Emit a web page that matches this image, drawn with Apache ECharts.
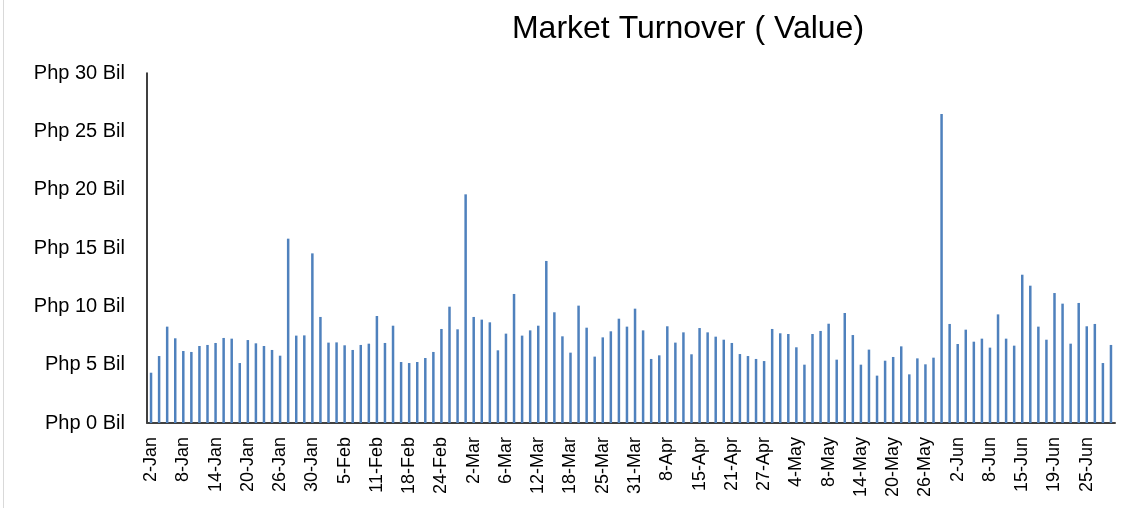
<!DOCTYPE html>
<html>
<head>
<meta charset="utf-8">
<title>Market Turnover</title>
<script src="https://cdn.jsdelivr.net/npm/echarts@6/dist/echarts.min.js"></script>
<style>
  html, body { margin: 0; padding: 0; background: #fff; }
  #chart { width: 1123px; height: 508px; }
</style>
</head>
<body>
<div id="chart"></div>
<script>
// trading days (2015)
const dates = [
  '2-Jan', '5-Jan', '6-Jan', '7-Jan', '8-Jan', '9-Jan', '12-Jan', '13-Jan', '14-Jan', '15-Jan',
  '16-Jan', '19-Jan', '20-Jan', '21-Jan', '22-Jan', '23-Jan', '26-Jan', '27-Jan', '28-Jan', '29-Jan',
  '30-Jan', '2-Feb', '3-Feb', '4-Feb', '5-Feb', '6-Feb', '9-Feb', '10-Feb', '11-Feb', '12-Feb',
  '13-Feb', '17-Feb', '18-Feb', '19-Feb', '20-Feb', '23-Feb', '24-Feb', '25-Feb', '26-Feb', '27-Feb',
  '2-Mar', '3-Mar', '4-Mar', '5-Mar', '6-Mar', '9-Mar', '10-Mar', '11-Mar', '12-Mar', '13-Mar',
  '16-Mar', '17-Mar', '18-Mar', '19-Mar', '20-Mar', '23-Mar', '25-Mar', '26-Mar', '27-Mar', '30-Mar',
  '31-Mar', '1-Apr', '6-Apr', '7-Apr', '8-Apr', '10-Apr', '13-Apr', '14-Apr', '15-Apr', '16-Apr',
  '17-Apr', '20-Apr', '21-Apr', '22-Apr', '23-Apr', '24-Apr', '27-Apr', '28-Apr', '29-Apr', '30-Apr',
  '4-May', '5-May', '6-May', '7-May', '8-May', '11-May', '12-May', '13-May', '14-May', '15-May',
  '18-May', '19-May', '20-May', '21-May', '22-May', '25-May', '26-May', '28-May', '29-May', '1-Jun',
  '2-Jun', '3-Jun', '4-Jun', '5-Jun', '8-Jun', '9-Jun', '10-Jun', '11-Jun', '15-Jun', '16-Jun',
  '17-Jun', '18-Jun', '19-Jun', '22-Jun', '23-Jun', '24-Jun', '25-Jun', '26-Jun', '29-Jun', '30-Jun'
];

// turnover, Php billion
const turnover = [
  4.31, 5.74, 8.26, 7.26, 6.17, 6.09, 6.60, 6.69, 6.86, 7.29,
  7.23, 5.14, 7.11, 6.83, 6.60, 6.26, 5.77, 15.80, 7.49, 7.51,
  14.54, 9.09, 6.89, 6.91, 6.66, 6.26, 6.69, 6.80, 9.17, 6.86,
  8.34, 5.23, 5.14, 5.23, 5.57, 6.09, 8.06, 9.97, 8.03, 19.60,
  9.09, 8.86, 8.63, 6.23, 7.66, 11.06, 7.49, 7.94, 8.34, 13.89,
  9.49, 7.43, 6.03, 10.06, 8.17, 5.69, 7.34, 7.86, 8.94, 8.26,
  9.80, 7.94, 5.49, 5.80, 8.29, 6.89, 7.77, 5.89, 8.14, 7.77,
  7.40, 7.14, 6.86, 5.91, 5.74, 5.49, 5.31, 8.06, 7.69, 7.63,
  6.49, 5.00, 7.63, 7.89, 8.51, 5.43, 9.43, 7.54, 5.00, 6.29,
  4.06, 5.34, 5.66, 6.57, 4.17, 5.54, 5.03, 5.60, 26.49, 8.49,
  6.77, 8.00, 6.97, 7.23, 6.46, 9.31, 7.23, 6.63, 12.71, 11.77,
  8.26, 7.14, 11.14, 10.23, 6.80, 10.29, 8.29, 8.49, 5.14, 6.69
];

const yTicks = [0, 5, 10, 15, 20, 25, 30];

const chart = echarts.init(document.getElementById('chart'), null, { renderer: 'canvas' });

const option = {
  backgroundColor: '#fff',
  animation: false,
  title: {
    text: 'Market Turnover ( Value)',
    left: 683,
    top: 8,
    textAlign: 'center',
    textStyle: {
      fontFamily: 'Liberation Sans',
      fontSize: 32,
      fontWeight: 'normal',
      color: '#000'
    }
  },
  grid: {
    left: 147,
    right: 8,
    top: 73,
    bottom: 85,
    containLabel: false
  },
  // thin frame line at the left edge
  graphic: [{
    type: 'line',
    shape: { x1: 3.5, y1: 0, x2: 3.5, y2: 508 },
    style: { stroke: '#d9d9d9', lineWidth: 1 }
  }],
  xAxis: {
    type: 'category',
    data: dates,
    axisLine: { show: true, lineStyle: { color: '#404040', width: 2 } },
    axisTick: { show: false },
    axisLabel: {
      interval: 3,
      rotate: 90,
      margin: 14,
      fontFamily: 'Liberation Sans',
      fontSize: 18,
      color: '#000'
    },
    splitLine: { show: false }
  },
  yAxis: {
    type: 'value',
    min: yTicks[0],
    max: yTicks[yTicks.length - 1],
    interval: 5,
    axisLine: { show: true, lineStyle: { color: '#000', width: 1.5 } },
    axisTick: { show: false },
    splitLine: { show: false },
    axisLabel: {
      margin: 22,
      fontFamily: 'Liberation Sans',
      fontSize: 20,
      color: '#000',
      formatter: v => 'Php ' + v + ' Bil'
    }
  },
  series: [{
    name: 'Turnover',
    type: 'bar',
    data: turnover,
    barWidth: 2.5,
    itemStyle: { color: '#4F81BD' }
  }]
};

chart.setOption(option);
</script>
</body>
</html>
